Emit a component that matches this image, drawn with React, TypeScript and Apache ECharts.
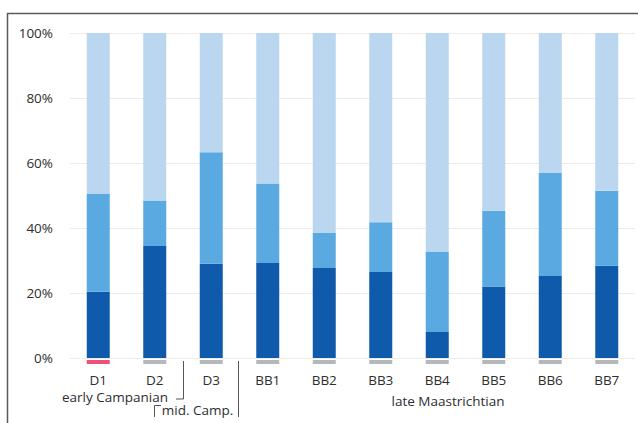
import React, { useEffect, useRef } from "react";
import * as echarts from "echarts";

const categories = ["D1", "D2", "D3", "BB1", "BB2", "BB3", "BB4", "BB5", "BB6", "BB7"];
// cumulative tops: dark 0..a, medium a..b, light b..100
const darkValues = [20.4, 34.5, 29.0, 29.2, 27.7, 26.5, 8.0, 22.0, 25.2, 28.4];
const middleTops = [50.5, 48.5, 63.3, 53.7, 38.6, 41.8, 32.8, 45.3, 56.9, 51.5];
const mediumValues = middleTops.map((t, i) => +(t - darkValues[i]).toFixed(1));
const lightValues = middleTops.map((t) => +(100 - t).toFixed(1));
const markerColors = ["#e8245a", "#a3a6aa", "#a3a6aa", "#a3a6aa", "#a3a6aa", "#a3a6aa", "#a3a6aa", "#a3a6aa", "#a3a6aa", "#a3a6aa"];
const yTicks = [0, 20, 40, 60, 80, 100];

const FONT = "'Open Sans', 'Noto Sans', sans-serif";
const FS = 13.5;

export default function App() {
  const ref = useRef<HTMLDivElement>(null);
  useEffect(() => {
    if (!ref.current) return;
    const chart = echarts.init(ref.current, undefined, { renderer: "svg" });
    const barW = 23;
    chart.setOption({
      animation: false,
      backgroundColor: "#ffffff",
      grid: { left: 70, right: 3, top: 33, bottom: 65, containLabel: false },
      xAxis: {
        type: "category",
        data: categories,
        axisLine: { show: false },
        axisTick: { show: false },
        axisLabel: { color: "#2e2e2e", fontSize: FS, fontFamily: FONT, margin: 15 },
      },
      yAxis: {
        type: "value",
        min: yTicks[0],
        max: yTicks[yTicks.length - 1],
        interval: 20,
        axisLine: { show: false },
        axisTick: { show: false },
        axisLabel: { color: "#2e2e2e", fontSize: FS, fontFamily: FONT, margin: 17, formatter: "{value}%" },
        splitLine: { lineStyle: { color: "#f0ebe6", width: 1 } },
      },
      series: [
        {
          type: "bar",
          stack: "s",
          barWidth: barW,
          data: darkValues,
          itemStyle: { color: "#0f5aab" },
        },
        {
          type: "bar",
          stack: "s",
          barWidth: barW,
          data: mediumValues,
          itemStyle: { color: "#5aa9e1" },
        },
        {
          type: "bar",
          stack: "s",
          barWidth: barW,
          data: lightValues,
          itemStyle: { color: "#bad7ef" },
        },
        {
          type: "scatter",
          symbol: "rect",
          symbolSize: [barW, 4],
          symbolOffset: [0, 4],
          clip: false,
          z: 5,
          data: categories.map((c, i) => ({ value: [c, 0], itemStyle: { color: markerColors[i] } })),
        },
      ],
      graphic: [
        { type: "line", shape: { x1: 7, y1: 13.5, x2: 638, y2: 13.5 }, style: { stroke: "#5a5a5a", lineWidth: 1.5 } },
        { type: "line", shape: { x1: 7.5, y1: 13, x2: 7.5, y2: 423 }, style: { stroke: "#5a5a5a", lineWidth: 1.5 } },
        {
          type: "polyline",
          shape: { points: [[183.5, 361], [183.5, 399], [176, 399]] },
          style: { stroke: "#555", lineWidth: 1, fill: "none" },
        },
        {
          type: "polyline",
          shape: { points: [[161, 405.5], [154.5, 405.5], [154.5, 417]] },
          style: { stroke: "#555", lineWidth: 1, fill: "none" },
        },
        {
          type: "line",
          shape: { x1: 238.5, y1: 361, x2: 238.5, y2: 417 },
          style: { stroke: "#555", lineWidth: 1 },
        },
        {
          type: "text",
          x: 115,
          y: 397,
          style: { text: "early Campanian", fill: "#2e2e2e", font: `${FS}px ${FONT}`, textAlign: "center", textVerticalAlign: "middle" },
        },
        {
          type: "text",
          x: 197.5,
          y: 410,
          style: { text: "mid. Camp.", fill: "#2e2e2e", font: `${FS}px ${FONT}`, textAlign: "center", textVerticalAlign: "middle" },
        },
        {
          type: "text",
          x: 448,
          y: 401,
          style: { text: "late Maastrichtian", fill: "#2e2e2e", font: `${FS}px ${FONT}`, textAlign: "center", textVerticalAlign: "middle" },
        },
      ],
    });
    return () => chart.dispose();
  }, []);
  return <div ref={ref} style={{ position: "fixed", left: 0, top: 0, width: 638, height: 423 }} />;
}
